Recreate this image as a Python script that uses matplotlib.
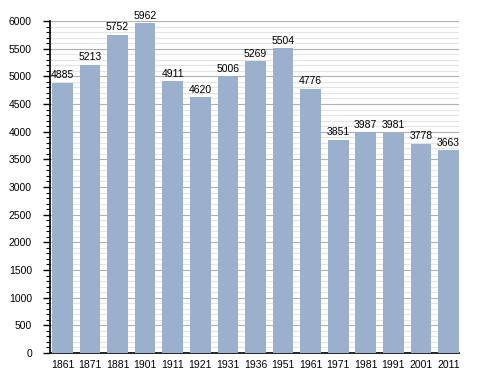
import numpy as np
import matplotlib.pyplot as plt
from matplotlib.ticker import MultipleLocator

years = ['1861', '1871', '1881', '1901', '1911', '1921', '1931', '1936',
         '1951', '1961', '1971', '1981', '1991', '2001', '2011']
population = [4885, 5213, 5752, 5962, 4911, 4620, 5006, 5269,
              5504, 4776, 3851, 3987, 3981, 3778, 3663]

plt.rcParams.update({'font.size': 7.5, 'font.family': 'Liberation Sans'})

fig = plt.figure(figsize=(4.88, 3.73), dpi=100)
ax = fig.add_axes([0.1025, 0.0536, 0.838, 0.89])

x = np.arange(len(years))
ax.bar(x, population, width=0.75, color='#9ab0cc', zorder=3)
for xi, v in zip(x, population):
    ax.text(xi, v + 45, str(v), ha='center', va='bottom', zorder=4)

ax.set_xlim(-0.45, len(years) - 0.62)
ax.set_ylim(0, 6000)
ax.yaxis.set_major_locator(MultipleLocator(500))
ax.yaxis.set_minor_locator(MultipleLocator(100))
ax.grid(which='major', axis='y', color='#b0b0b0', linewidth=0.8, zorder=0)
ax.grid(which='minor', axis='y', color='#e4e4e4', linewidth=0.8, zorder=0)

ax.set_xticks(x)
ax.set_xticklabels(years)
ax.tick_params(axis='x', length=0, pad=5)
ax.tick_params(axis='y', which='major', length=5, width=1, direction='out', pad=8)
ax.tick_params(axis='y', which='minor', length=3, width=0.8, direction='out')

for s in ['top', 'right']:
    ax.spines[s].set_visible(False)
ax.spines['left'].set_linewidth(1.2)
ax.spines['bottom'].set_linewidth(1.2)

fig.savefig('out.png')
